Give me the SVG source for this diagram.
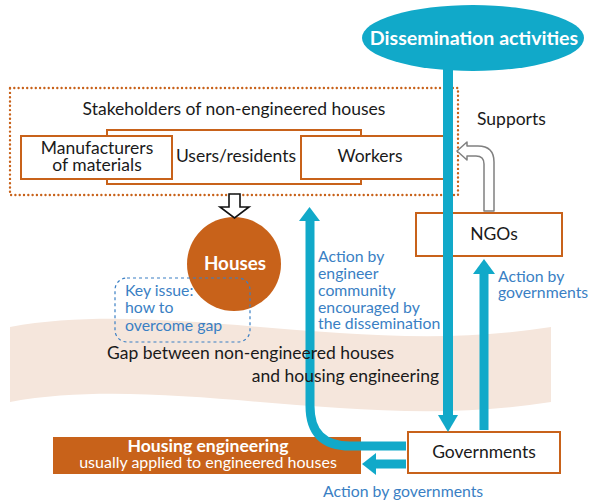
<svg xmlns="http://www.w3.org/2000/svg" width="591" height="503" viewBox="0 0 591 503">
<style>
text{font-family:Lato,"Liberation Sans",sans-serif;fill:#1a1a1a}
.t16{font-size:17.5px}
.blue{fill:#3a7fc4;font-size:15.8px}
.wb{fill:#fff;font-weight:bold}
.box{fill:#fff;stroke:#c8621a;stroke-width:2}
.arr{fill:none;stroke:#11a9c9}
.ah{fill:#11a9c9}
</style>
<g id="gap-band">
<path d="M10,327 C170,298 360,358 551,327 L551,402 C360,433 170,373 10,402 Z" fill="#f5e6dc"/>
</g>
<g id="stakeholders">
<rect x="10" y="88" width="448" height="107" fill="none" stroke="#c8621a" stroke-width="2.4" stroke-dasharray="0 4.3" stroke-linecap="round"/>
<text class="t16" x="234" y="115" text-anchor="middle">Stakeholders of non-engineered houses</text>
</g>
<g id="users">
<rect class="box" x="107" y="130" width="254" height="54"/>
<text class="t16" x="236" y="162" text-anchor="middle">Users/residents</text>
</g>
<g id="manufacturers">
<rect class="box" x="21" y="136" width="151" height="43"/>
<text class="t16" x="97" y="154" text-anchor="middle">Manufacturers</text>
<text class="t16" x="97" y="171" text-anchor="middle">of materials</text>
</g>
<g id="workers">
<rect class="box" x="301" y="136" width="146" height="43"/>
<text class="t16" x="370" y="162" text-anchor="middle">Workers</text>
</g>
<g id="ngos">
<rect class="box" x="416" y="213" width="146" height="43"/>
<text class="t16" x="494" y="240" text-anchor="middle">NGOs</text>
</g>
<g id="governments">
<rect class="box" x="408" y="432" width="152" height="41"/>
<text class="t16" x="484" y="458" text-anchor="middle">Governments</text>
</g>
<g id="housing-engineering">
<rect x="53" y="437" width="308" height="37" fill="#c8621a"/>
<text class="wb" x="208" y="452" text-anchor="middle" font-size="17.6">Housing engineering</text>
<text x="208" y="468" text-anchor="middle" font-size="16" style="fill:#fff">usually applied to engineered houses</text>
</g>
<g id="houses">
<circle cx="234" cy="264" r="47" fill="#c8621a"/>
<text class="wb" x="235" y="270" text-anchor="middle" font-size="18.8">Houses</text>
</g>
<g id="key-issue">
<rect x="115" y="278" width="135" height="64" rx="12" fill="none" stroke="#3a7fc4" stroke-width="1.2" stroke-dasharray="3 3"/>
<text class="blue" x="125" y="296">Key issue:</text>
<text class="blue" x="125" y="313">how to</text>
<text class="blue" x="125" y="331">overcome gap</text>
</g>
<g id="connectors">
<path class="arr" d="M448,60 L448,417" stroke-width="10"/>
<polygon class="ah" points="438,415 458,415 448,432"/>
<path class="arr" d="M484,430 L484,272" stroke-width="9"/>
<polygon class="ah" points="473,274 495,274 484,259"/>
<path class="arr" d="M406,446 L350,446 Q310,446 310,406 L310,218" stroke-width="9"/>
<polygon class="ah" points="299,221 320,221 309.5,207"/>
<path class="arr" d="M406,464 L373,464" stroke-width="9"/>
<polygon class="ah" points="376,453 376,475 362,464"/>
<path d="M457,151 L467,142 L467,146 L478,146 Q494,146 494,162 L494,211 L484,211 L484,164 Q484,156 476,156 L467,156 L467,160 Z" fill="#fff" stroke="#808080" stroke-width="1.5" stroke-linejoin="round"/>
<path d="M229,194 L240,194 L240,207 L249,207 L234.5,218 L220,207 L229,207 Z" fill="#fff" stroke="#111" stroke-width="1.6"/>
</g>
<g id="dissemination">
<ellipse cx="473" cy="38" rx="111" ry="33" fill="#11a9c9"/>
<text class="wb" x="474" y="45" text-anchor="middle" font-size="19.6">Dissemination activities</text>
</g>
<g id="labels">
<text class="t16" x="107" y="359">Gap between non-engineered houses</text>
<text class="t16" x="439" y="382" text-anchor="end">and housing engineering</text>
<text class="t16" x="477" y="125">Supports</text>
<text class="blue" x="318" y="262">Action by</text>
<text class="blue" x="318" y="279">engineer</text>
<text class="blue" x="318" y="296">community</text>
<text class="blue" x="318" y="313">encouraged by</text>
<text class="blue" x="318" y="329">the dissemination</text>
<text class="blue" x="498" y="282">Action by</text>
<text class="blue" x="498" y="298">governments</text>
<text class="blue" x="323" y="497">Action by governments</text>
</g>
</svg>
